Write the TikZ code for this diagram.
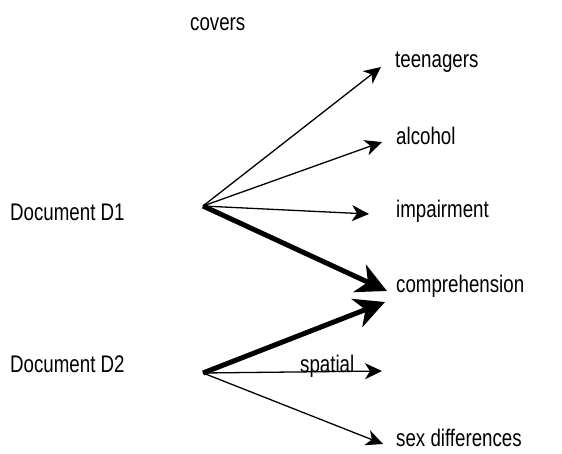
\documentclass[tikz,border=0pt]{standalone}
\usepackage{fontspec}
\setmainfont{Liberation Sans}[FakeStretch=0.78]
\usetikzlibrary{arrows.meta}
\begin{document}
\begin{tikzpicture}[x=1pt,y=-1pt,
  lbl/.style={anchor=west,inner sep=0pt,font=\fontsize{24}{27}\selectfont},
  thin/.style={line width=1.3pt,-{Stealth[length=17pt,width=16pt,inset=5pt]}},
  thick/.style={line width=5pt,-{Stealth[length=30pt,width=30pt,inset=9pt]}}]
\useasboundingbox (0,0) rectangle (562,453);
\node[lbl] (cov) at (190,24) {covers};
\node[lbl] (D1) at (10,212) {Document D1};
\node[lbl] (D2) at (10,364) {Document D2};
\node[lbl] (t) at (395,62) {teenagers};
\node[lbl] (a) at (396,136) {alcohol};
\node[lbl] (i) at (396,211) {impairment};
\node[lbl] (c) at (396,286) {comprehension};
\node[lbl] (sx) at (396,438) {sex differences};
\coordinate (o1) at (203,206);
\coordinate (o2) at (203,373);
\coordinate (tt) at (381,67);
\coordinate (ta) at (382,142);
\coordinate (ti) at (369,214);
\coordinate (tc1) at (387,291);
\coordinate (tc2) at (385,302);
\coordinate (ts) at (382,371);
\coordinate (tx) at (383,444);
\draw[thin] (o1) -- (tt);
\draw[thin] (o1) -- (ta);
\draw[thin] (o1) -- (ti);
\draw[thick] (o1) -- (tc1);
\draw[thick] (o2) -- (tc2);
\draw[thin] (o2) -- (ts);
\draw[thin] (o2) -- (tx);
\node[lbl,anchor=base west] (sp) at (300,372) {spatial};
\end{tikzpicture}
\end{document}
